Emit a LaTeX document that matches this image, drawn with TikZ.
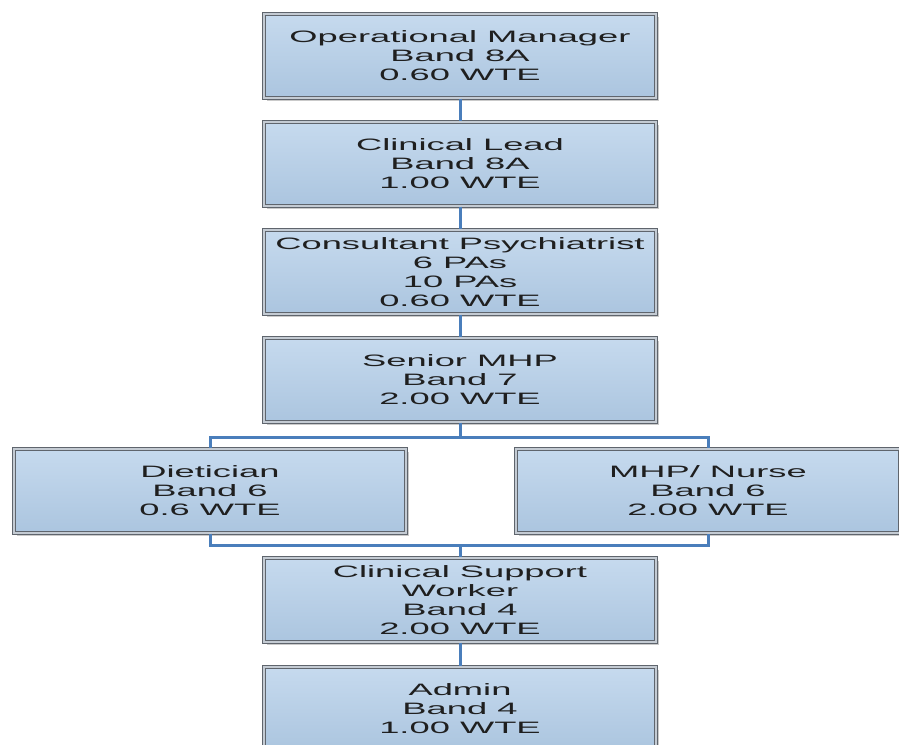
\documentclass[tikz,border=0pt]{standalone}
\usepackage{fontspec}
\setmainfont[FakeStretch=2.2]{Liberation Sans}
\usetikzlibrary{shadows}

\definecolor{boxtop}{HTML}{C6DAEE}
\definecolor{boxbot}{HTML}{ABC5DF}
\definecolor{rimdark}{HTML}{5F656D}
\definecolor{rimlight}{HTML}{C4CBD3}
\definecolor{linkblue}{HTML}{4A7EBB}

\tikzset{
  post/.style={rectangle, minimum width=392pt, minimum height=84pt,
    inner sep=0pt, align=center, text=black!88,
    font=\fontsize{16.5}{19}\selectfont,
    top color=boxtop, bottom color=boxbot,
    draw=rimdark, line width=1.2pt, double=rimlight, double distance=1.8pt,
    drop shadow={shadow xshift=2.5pt, shadow yshift=-2.5pt, opacity=0.35, fill=black!60}},
  link/.style={draw=linkblue, line width=3pt}
}

\begin{document}
\begin{tikzpicture}[x=1pt, y=1pt]
  \useasboundingbox (0,0) rectangle (899,-744);

  % reporting line, top to bottom
  \node[post] (opm)  at (460,-56)  {Operational Manager\\Band 8A\\0.60 WTE};
  \node[post] (lead) at (460,-164) {Clinical Lead\\Band 8A\\1.00 WTE};
  \node[post] (cons) at (460,-272) {Consultant Psychiatrist\\6 PAs\\10 PAs\\0.60 WTE};
  \node[post] (smhp) at (460,-380) {Senior MHP\\Band 7\\2.00 WTE};
  \node[post] (diet) at (210,-491) {Dietician\\Band 6\\0.6 WTE};
  \node[post, minimum width=384pt] (nurse) at (708,-491) {MHP/ Nurse\\Band 6\\2.00 WTE};
  \node[post] (csw)  at (460,-600) {Clinical Support\\Worker\\Band 4\\2.00 WTE};
  \node[post] (admin) at (460,-709) {Admin\\Band 4\\1.00 WTE};

  \coordinate (split) at (460,-437);
  \coordinate (merge) at (460,-545);

  % connectors
  \draw[link] (opm.south) -- (lead.north);
  \draw[link] (lead.south) -- (cons.north);
  \draw[link] (cons.south) -- (smhp.north);
  \draw[link] (smhp.south) -- (split);
  \draw[link] (diet.north) |- (split) -| (nurse.north);
  \draw[link] (diet.south) |- (merge) -| (nurse.south);
  \draw[link] (merge) -- (csw.north);
  \draw[link] (csw.south) -- (admin.north);
\end{tikzpicture}
\end{document}
